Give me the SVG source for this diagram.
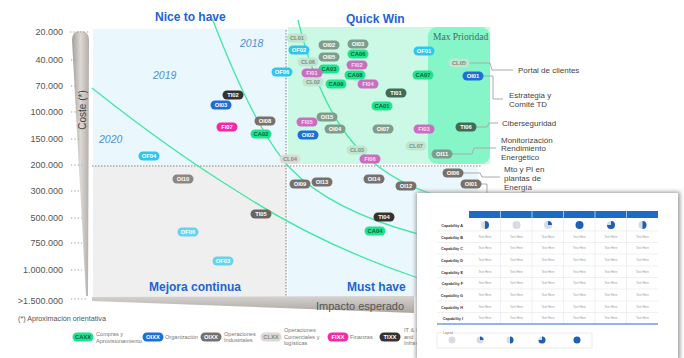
<svg xmlns="http://www.w3.org/2000/svg" width="684" height="358" viewBox="0 0 684 358">
<defs>
<linearGradient id="gy" x1="0" y1="0" x2="1" y2="0">
<stop offset="0" stop-color="#a39e99"/><stop offset="0.5" stop-color="#dcd9d6"/><stop offset="1" stop-color="#b3aea9"/>
</linearGradient>
<linearGradient id="gx" x1="0" y1="0" x2="0" y2="1">
<stop offset="0" stop-color="#d6d3d0"/><stop offset="1" stop-color="#aaa5a0"/>
</linearGradient>
<filter id="sh" x="-5%" y="-5%" width="110%" height="110%">
<feGaussianBlur stdDeviation="2"/>
</filter>
</defs>
<style>
text{font-family:"Liberation Sans",Arial,sans-serif}
.yl{font-size:9px;fill:#555;text-anchor:end}
.lead{stroke:#999;stroke-width:1.2;stroke-dasharray:1.2,2.2}
.div{stroke:#aaa;stroke-width:1.5;stroke-dasharray:1.5,1.5;fill:none}
.quad{font-size:12px;font-weight:bold;fill:#1c64d8}
.yr{font-size:10.5px;font-style:italic;fill:#4d8fe0}
.curve{fill:none;stroke:#3fe8a6;stroke-width:1.3}
.call{fill:none;stroke:#aaa;stroke-width:1}
.cl{font-size:8px;fill:#444}
.pt{font-size:5.8px;font-weight:bold;text-anchor:middle;fill:#fff}
.ca{fill:#1fe48e}.tca{fill:#0d5e3a}
.of{fill:#2ec6ef}.ofl{fill:#66d3f0}
.org{fill:#1b6fd5}
.ind{fill:#77716b}.indq{fill:#7e9d8c}.indl{fill:#8b8680}
.clg{fill:#dcd8d3}.tcl{fill:#8c8782}.clq{fill:#c0e5d1}.tclq{fill:#7d8f84}
.fi{fill:#f02aa9}.fiq{fill:#c96ec0}.tfiq{fill:#f6dcf1}
.ti{fill:#36322e}.tiq{fill:#3f6b57}.tig{fill:#6a6560}
.lg{font-size:5.6px;fill:#777}
.rl{font-size:3.8px;font-weight:bold;fill:#333;text-anchor:end}
.th{font-size:3px;fill:#9a9a9a;text-anchor:middle}
.row{stroke:#e6e6e6;stroke-width:0.6}
.pbg{fill:#d8dce2}.pfg{fill:#1f5fb8}
</style>

<!-- background quadrants -->
<g id="quadrants">
<rect x="93" y="29" width="194" height="137" fill="#eaf7fc"/>
<rect x="93" y="166" width="194" height="131" fill="#efefef"/>
<rect x="288" y="27" width="202" height="137" fill="#ccf9e5"/>
<rect x="288" y="167" width="190" height="130" fill="#eaf7fc"/>
<rect x="428" y="27" width="62" height="137" rx="9" fill="#86f5c8"/>
<text x="433" y="40" font-size="9.5" fill="#4a6b5c" style="font-family:'Liberation Serif',serif">Max Prioridad</text>
<line class="div" x1="92" y1="166" x2="482" y2="166"/>
<line class="div" x1="286" y1="30" x2="286" y2="297"/>
</g>

<!-- y axis -->
<g id="y-axis">
<path d="M72,40 Q72,31 80.5,31 Q89,31 89,40 L88,296 L86,296 Z" fill="url(#gy)"/>
<text x="0" y="0" transform="translate(86,110) rotate(-90)" font-size="10" fill="#444" text-anchor="middle">Coste (*)</text>
<text class="yl" x="63" y="35">20.000</text>
<text class="yl" x="63" y="63">40.000</text>
<text class="yl" x="63" y="89">70.000</text>
<text class="yl" x="63" y="115">100.000</text>
<text class="yl" x="63" y="142">150.000</text>
<text class="yl" x="63" y="168">200.000</text>
<text class="yl" x="63" y="194">300.000</text>
<text class="yl" x="63" y="221">500.000</text>
<text class="yl" x="63" y="246">750.000</text>
<text class="yl" x="63" y="273">1.000.000</text>
<text class="yl" x="63" y="304">&gt;1.500.000</text>
<line class="lead" x1="70" y1="32" x2="89" y2="32"/>
<line class="lead" x1="71" y1="60" x2="78" y2="60"/>
<line class="lead" x1="71" y1="86" x2="78" y2="86"/>
<line class="lead" x1="71" y1="112" x2="78" y2="112"/>
<line class="lead" x1="71" y1="139" x2="80" y2="139"/>
<line class="lead" x1="71" y1="165" x2="82" y2="165"/>
<line class="lead" x1="71" y1="191" x2="80" y2="191"/>
<line class="lead" x1="71" y1="218" x2="82" y2="218"/>
<line class="lead" x1="71" y1="243" x2="82" y2="243"/>
<line class="lead" x1="71" y1="270" x2="82" y2="270"/>
<line class="lead" x1="71" y1="299" x2="86" y2="299"/>
</g>

<!-- x axis -->
<g id="x-axis">
<path d="M92,297 L414,296 L414,313 L92,301 Z" fill="url(#gx)"/>
<text x="316" y="310" font-size="11" fill="#555">Impacto esperado</text>
</g>

<!-- labels -->
<g id="labels">
<text class="quad" x="155" y="21">Nice to have</text>
<text class="quad" x="346" y="23">Quick Win</text>
<text class="quad" x="149" y="291">Mejora continua</text>
<text class="quad" x="347" y="291">Must have</text>
<text class="yr" x="240" y="47">2018</text>
<text class="yr" x="153" y="79">2019</text>
<text class="yr" x="99" y="143">2020</text>
<text x="18" y="321" font-size="7.2" fill="#555">(*) Aproximación orientativa</text>
</g>

<!-- connectors -->
<g id="connectors">
<path class="curve" d="M212,18 Q255,130 290,168 Q330,210 418,234"/>
<path class="curve" d="M298,20 Q322,118 368,158 Q395,182 432,194"/>
<path class="curve" d="M92,88 Q170,150 240,193 Q320,245 418,278"/>
<path class="call" d="M467,63 H490 L492,70 H513"/>
<path class="call" d="M483,76 H493 V99 H503"/>
<path class="call" d="M476,127 H487 L489,123 H498"/>
<path class="call" d="M452,154 H472 L474,148 H496"/>
<path class="call" d="M463,173 H480 L482,177 H500"/>
<path class="call" d="M481,184 H487 V195"/>
</g>

<!-- callout texts -->
<g id="callouts">
<text class="cl" x="518" y="73">Portal de clientes</text>
<text class="cl" x="509" y="98">Estrategia y</text>
<text class="cl" x="509" y="107">Comité TD</text>
<text class="cl" x="502" y="126">Ciberseguridad</text>
<text class="cl" x="501" y="143">Monitorización</text>
<text class="cl" x="501" y="151">Rendimiento</text>
<text class="cl" x="501" y="160">Energético</text>
<text class="cl" x="504" y="172">Mto y PI en</text>
<text class="cl" x="504" y="181">plantas de</text>
<text class="cl" x="504" y="190">Energía</text>
</g>

<!-- nodes: upper left -->
<g id="TI02" transform="translate(233,95)"><rect class="ti" x="-10.5" y="-4.5" width="21" height="9" rx="4.5"/><text class="pt" y="2">TI02</text></g>
<g id="org-OI03" transform="translate(221,105)"><rect class="org" x="-10.5" y="-4.5" width="21" height="9" rx="4.5"/><text class="pt" y="2">OI03</text></g>
<g id="FI07" transform="translate(227,127)"><rect class="fi" x="-10.5" y="-4.5" width="21" height="9" rx="4.5"/><text class="pt" y="2">FI07</text></g>
<g id="ind-OI08" transform="translate(265,121)"><rect class="ind" x="-10.5" y="-4.5" width="21" height="9" rx="4.5"/><text class="pt" y="2">OI08</text></g>
<g id="CA02" transform="translate(261,134)"><rect class="ca" x="-10.5" y="-4.5" width="21" height="9" rx="4.5"/><text class="pt tca" y="2">CA02</text></g>
<g id="OF04" transform="translate(149,156)"><rect class="of" x="-10.5" y="-4.5" width="21" height="9" rx="4.5"/><text class="pt" y="2">OF04</text></g>
<g id="OF06-a" transform="translate(282,72)"><rect class="of" x="-10.5" y="-4.5" width="21" height="9" rx="4.5"/><text class="pt" y="2">OF06</text></g>

<!-- nodes: lower left -->
<g id="ind-OI10" transform="translate(183,179)"><rect class="indl" x="-10.5" y="-4.5" width="21" height="9" rx="4.5"/><text class="pt" y="2">OI10</text></g>
<g id="TI05" transform="translate(261,214)"><rect class="tig" x="-10.5" y="-4.5" width="21" height="9" rx="4.5"/><text class="pt" y="2">TI05</text></g>
<g id="OF06-b" transform="translate(188,232)"><rect class="ofl" x="-10.5" y="-4.5" width="21" height="9" rx="4.5"/><text class="pt" y="2">OF06</text></g>
<g id="OF03" transform="translate(223,261)"><rect class="ofl" x="-10.5" y="-4.5" width="21" height="9" rx="4.5"/><text class="pt" y="2">OF03</text></g>

<!-- nodes: lower right -->
<g id="ind-OI09" transform="translate(300,184)"><rect class="ind" x="-10.5" y="-4.5" width="21" height="9" rx="4.5"/><text class="pt" y="2">OI09</text></g>
<g id="ind-OI13" transform="translate(322,182)"><rect class="ind" x="-10.5" y="-4.5" width="21" height="9" rx="4.5"/><text class="pt" y="2">OI13</text></g>
<g id="ind-OI14" transform="translate(374,179)"><rect class="ind" x="-10.5" y="-4.5" width="21" height="9" rx="4.5"/><text class="pt" y="2">OI14</text></g>
<g id="ind-OI12" transform="translate(406,186)"><rect class="ind" x="-10.5" y="-4.5" width="21" height="9" rx="4.5"/><text class="pt" y="2">OI12</text></g>
<g id="TI04" transform="translate(384,217)"><rect class="ti" x="-10.5" y="-4.5" width="21" height="9" rx="4.5"/><text class="pt" y="2">TI04</text></g>
<g id="CA04" transform="translate(375,231)"><rect class="ca" x="-10.5" y="-4.5" width="21" height="9" rx="4.5"/><text class="pt tca" y="2">CA04</text></g>
<g id="ind-OI06" transform="translate(453,173)"><rect class="ind" x="-10.5" y="-4.5" width="21" height="9" rx="4.5"/><text class="pt" y="2">OI06</text></g>
<g id="ind-OI01" transform="translate(471,184)"><rect class="ind" x="-10.5" y="-4.5" width="21" height="9" rx="4.5"/><text class="pt" y="2">OI01</text></g>

<!-- nodes: quick win -->
<g id="CL01" transform="translate(297,38)"><rect class="clq" x="-10.5" y="-4.5" width="21" height="9" rx="4.5"/><text class="pt tclq" y="2">CL01</text></g>
<g id="ind-OI02" transform="translate(329,45)"><rect class="indq" x="-10.5" y="-4.5" width="21" height="9" rx="4.5"/><text class="pt" y="2">OI02</text></g>
<g id="ind-OI03" transform="translate(358,44)"><rect class="indq" x="-10.5" y="-4.5" width="21" height="9" rx="4.5"/><text class="pt" y="2">OI03</text></g>
<g id="OF02" transform="translate(299,50)"><rect class="of" x="-10.5" y="-4.5" width="21" height="9" rx="4.5"/><text class="pt" y="2">OF02</text></g>
<g id="ind-OI05" transform="translate(329,57)"><rect class="indq" x="-10.5" y="-4.5" width="21" height="9" rx="4.5"/><text class="pt" y="2">OI05</text></g>
<g id="CA06" transform="translate(358,54)"><rect class="ca" x="-10.5" y="-4.5" width="21" height="9" rx="4.5"/><text class="pt tca" y="2">CA06</text></g>
<g id="CL06" transform="translate(308,62)"><rect class="clq" x="-10.5" y="-4.5" width="21" height="9" rx="4.5"/><text class="pt tclq" y="2">CL06</text></g>
<g id="FI02" transform="translate(357,65)"><rect class="fiq" x="-10.5" y="-4.5" width="21" height="9" rx="4.5"/><text class="pt tfiq" y="2">FI02</text></g>
<g id="CA03" transform="translate(329,69)"><rect class="ca" x="-10.5" y="-4.5" width="21" height="9" rx="4.5"/><text class="pt tca" y="2">CA03</text></g>
<g id="FI01" transform="translate(312,73)"><rect class="fiq" x="-10.5" y="-4.5" width="21" height="9" rx="4.5"/><text class="pt tfiq" y="2">FI01</text></g>
<g id="CA08" transform="translate(355,75)"><rect class="ca" x="-10.5" y="-4.5" width="21" height="9" rx="4.5"/><text class="pt tca" y="2">CA08</text></g>
<g id="CL02" transform="translate(313,82)"><rect class="clq" x="-10.5" y="-4.5" width="21" height="9" rx="4.5"/><text class="pt tclq" y="2">CL02</text></g>
<g id="CA09" transform="translate(336,84)"><rect class="ca" x="-10.5" y="-4.5" width="21" height="9" rx="4.5"/><text class="pt tca" y="2">CA09</text></g>
<g id="FI04" transform="translate(368,84)"><rect class="fiq" x="-10.5" y="-4.5" width="21" height="9" rx="4.5"/><text class="pt tfiq" y="2">FI04</text></g>
<g id="OF01" transform="translate(424,51)"><rect class="of" x="-10.5" y="-4.5" width="21" height="9" rx="4.5"/><text class="pt" y="2">OF01</text></g>
<g id="CA07" transform="translate(423,75)"><rect class="ca" x="-10.5" y="-4.5" width="21" height="9" rx="4.5"/><text class="pt tca" y="2">CA07</text></g>
<g id="TI01" transform="translate(396,93)"><rect class="tiq" x="-10.5" y="-4.5" width="21" height="9" rx="4.5"/><text class="pt" y="2">TI01</text></g>
<g id="CA01" transform="translate(382,106)"><rect class="ca" x="-10.5" y="-4.5" width="21" height="9" rx="4.5"/><text class="pt tca" y="2">CA01</text></g>
<g id="ind-OI15" transform="translate(327,117)"><rect class="indq" x="-10.5" y="-4.5" width="21" height="9" rx="4.5"/><text class="pt" y="2">OI15</text></g>
<g id="FI05" transform="translate(307,122)"><rect class="fiq" x="-10.5" y="-4.5" width="21" height="9" rx="4.5"/><text class="pt tfiq" y="2">FI05</text></g>
<g id="ind-OI04" transform="translate(335,129)"><rect class="indq" x="-10.5" y="-4.5" width="21" height="9" rx="4.5"/><text class="pt" y="2">OI04</text></g>
<g id="ind-OI07" transform="translate(383,129)"><rect class="indq" x="-10.5" y="-4.5" width="21" height="9" rx="4.5"/><text class="pt" y="2">OI07</text></g>
<g id="FI03" transform="translate(424,129)"><rect class="fiq" x="-10.5" y="-4.5" width="21" height="9" rx="4.5"/><text class="pt tfiq" y="2">FI03</text></g>
<g id="org-OI02" transform="translate(308,135)"><rect class="org" x="-10.5" y="-4.5" width="21" height="9" rx="4.5"/><text class="pt" y="2">OI02</text></g>
<g id="CL07" transform="translate(416,146)"><rect class="clq" x="-10.5" y="-4.5" width="21" height="9" rx="4.5"/><text class="pt tclq" y="2">CL07</text></g>
<g id="CL03" transform="translate(357,150)"><rect class="clq" x="-10.5" y="-4.5" width="21" height="9" rx="4.5"/><text class="pt tclq" y="2">CL03</text></g>
<g id="FI06" transform="translate(370,159)"><rect class="fiq" x="-10.5" y="-4.5" width="21" height="9" rx="4.5"/><text class="pt tfiq" y="2">FI06</text></g>
<g id="CL04" transform="translate(290,159)"><rect class="clg" x="-10.5" y="-4.5" width="21" height="9" rx="4.5"/><text class="pt tcl" y="2">CL04</text></g>
<g id="ind-OI11" transform="translate(442,154)"><rect class="indq" x="-10.5" y="-4.5" width="21" height="9" rx="4.5"/><text class="pt" y="2">OI11</text></g>
<g id="CL05" transform="translate(459,63)"><rect class="clq" x="-10.5" y="-4.5" width="21" height="9" rx="4.5"/><text class="pt tclq" y="2">CL05</text></g>
<g id="org-OI01" transform="translate(473,76)"><rect class="org" x="-10.5" y="-4.5" width="21" height="9" rx="4.5"/><text class="pt" y="2">OI01</text></g>
<g id="TI06" transform="translate(466,127)"><rect class="tiq" x="-10.5" y="-4.5" width="21" height="9" rx="4.5"/><text class="pt" y="2">TI06</text></g>

<!-- legend -->
<g id="legend">
<g transform="translate(83,337)"><rect class="ca" x="-10.5" y="-4.5" width="21" height="9" rx="4.5"/><text class="pt tca" y="2">CAXX</text></g>
<text class="lg" x="96" y="336">Compras y</text>
<text class="lg" x="96" y="342.5">Aprovisionamiento</text>
<g transform="translate(153,337)"><rect class="org" x="-10.5" y="-4.5" width="21" height="9" rx="4.5"/><text class="pt" y="2">OIXX</text></g>
<text class="lg" x="165" y="339">Organización</text>
<g transform="translate(211,337)"><rect class="ind" x="-10.5" y="-4.5" width="21" height="9" rx="4.5"/><text class="pt" y="2">OIXX</text></g>
<text class="lg" x="224" y="335.5">Operaciones</text>
<text class="lg" x="224" y="342">Industriales</text>
<g transform="translate(271,337)"><rect class="clg" x="-10.5" y="-4.5" width="21" height="9" rx="4.5"/><text class="pt tcl" y="2">CLXX</text></g>
<text class="lg" x="284" y="332">Operaciones</text>
<text class="lg" x="284" y="338.5">Comerciales y</text>
<text class="lg" x="284" y="345">logísticas</text>
<g transform="translate(338,337)"><rect class="fi" x="-10.5" y="-4.5" width="21" height="9" rx="4.5"/><text class="pt" y="2">FIXX</text></g>
<text class="lg" x="350" y="339">Finanzas</text>
<g transform="translate(390,337)"><rect class="ti" x="-10.5" y="-4.5" width="21" height="9" rx="4.5"/><text class="pt" y="2">TIXX</text></g>
<text class="lg" x="404" y="332">IT &amp; Comms</text>
<text class="lg" x="404" y="338.5">and</text>
<text class="lg" x="404" y="345">Infras</text>
</g>

<!-- table panel -->
<g id="table-panel">
<rect x="416" y="192" width="264" height="168" fill="#9a9a9a" filter="url(#sh)"/>
<rect x="417" y="193" width="261" height="166" fill="#ffffff"/>
<rect x="469" y="211" width="189" height="7" fill="#1f6bc4"/>
<g stroke="#ffffff" stroke-width="0.6">
<line x1="500.5" y1="211" x2="500.5" y2="218"/><line x1="532" y1="211" x2="532" y2="218"/><line x1="563.5" y1="211" x2="563.5" y2="218"/><line x1="595" y1="211" x2="595" y2="218"/><line x1="626.5" y1="211" x2="626.5" y2="218"/>
</g>
<g class="row">
<line x1="437" y1="231" x2="658" y2="231"/><line x1="437" y1="242.5" x2="658" y2="242.5"/><line x1="437" y1="254" x2="658" y2="254"/><line x1="437" y1="266" x2="658" y2="266"/><line x1="437" y1="277.5" x2="658" y2="277.5"/><line x1="437" y1="289" x2="658" y2="289"/><line x1="437" y1="301" x2="658" y2="301"/><line x1="437" y1="312.5" x2="658" y2="312.5"/>
<line x1="500.5" y1="219" x2="500.5" y2="324"/><line x1="532" y1="219" x2="532" y2="324"/><line x1="563.5" y1="219" x2="563.5" y2="324"/><line x1="595" y1="219" x2="595" y2="324"/><line x1="626.5" y1="219" x2="626.5" y2="324"/>
</g>
<line x1="437" y1="324" x2="658" y2="324" stroke="#2a6cc0" stroke-width="1"/>
<text class="rl" x="463" y="226.5">Capability A</text>
<text class="rl" x="463" y="238.5">Capability B</text>
<text class="rl" x="463" y="249.5">Capability C</text>
<text class="rl" x="463" y="261.5">Capability D</text>
<text class="rl" x="463" y="273.5">Capability E</text>
<text class="rl" x="463" y="284.5">Capability F</text>
<text class="rl" x="463" y="296.5">Capability G</text>
<text class="rl" x="463" y="308.5">Capability H</text>
<text class="rl" x="463" y="319.5">Capability I</text>
<circle class="pbg" cx="485" cy="225" r="4"/><path class="pfg" d="M485,221 A4,4 0 0 1 485,229 Z"/>
<circle class="pbg" cx="516.5" cy="225" r="4"/>
<circle class="pbg" cx="548" cy="225" r="4"/><path class="pfg" d="M548,225 L548,221 A4,4 0 0 1 552,225 Z"/>
<circle class="pfg" cx="579.5" cy="225" r="4"/>
<circle class="pbg" cx="611" cy="225" r="4"/><path class="pfg" d="M611,225 L611,221 A4,4 0 1 1 607,225 Z"/>
<circle class="pbg" cx="642.5" cy="225" r="4"/><path class="pfg" d="M642.5,221 A4,4 0 0 1 642.5,229 Z"/>
<g class="th">
<text x="485" y="238">Text Here</text><text x="516.5" y="238">Text Here</text><text x="548" y="238">Text Here</text><text x="579.5" y="238">Text Here</text><text x="611" y="238">Text Here</text><text x="642.5" y="238">Text Here</text>
<text x="485" y="249">Text Here</text><text x="516.5" y="249">Text Here</text><text x="548" y="249">Text Here</text><text x="579.5" y="249">Text Here</text><text x="611" y="249">Text Here</text><text x="642.5" y="249">Text Here</text>
<text x="485" y="261">Text Here</text><text x="516.5" y="261">Text Here</text><text x="548" y="261">Text Here</text><text x="579.5" y="261">Text Here</text><text x="611" y="261">Text Here</text><text x="642.5" y="261">Text Here</text>
<text x="485" y="273">Text Here</text><text x="516.5" y="273">Text Here</text><text x="548" y="273">Text Here</text><text x="579.5" y="273">Text Here</text><text x="611" y="273">Text Here</text><text x="642.5" y="273">Text Here</text>
<text x="485" y="284">Text Here</text><text x="516.5" y="284">Text Here</text><text x="548" y="284">Text Here</text><text x="579.5" y="284">Text Here</text><text x="611" y="284">Text Here</text><text x="642.5" y="284">Text Here</text>
<text x="485" y="296">Text Here</text><text x="516.5" y="296">Text Here</text><text x="548" y="296">Text Here</text><text x="579.5" y="296">Text Here</text><text x="611" y="296">Text Here</text><text x="642.5" y="296">Text Here</text>
<text x="485" y="308">Text Here</text><text x="516.5" y="308">Text Here</text><text x="548" y="308">Text Here</text><text x="579.5" y="308">Text Here</text><text x="611" y="308">Text Here</text><text x="642.5" y="308">Text Here</text>
<text x="485" y="319">Text Here</text><text x="516.5" y="319">Text Here</text><text x="548" y="319">Text Here</text><text x="579.5" y="319">Text Here</text><text x="611" y="319">Text Here</text><text x="642.5" y="319">Text Here</text>
</g>
<rect x="437" y="333" width="155" height="15" fill="none" stroke="#dddddd" stroke-width="0.6"/>
<rect x="442" y="331" width="12" height="4" fill="#ffffff"/>
<text x="443" y="334" font-size="3" fill="#777">Legend</text>
<circle class="pbg" cx="452" cy="340" r="3.5"/>
<circle class="pbg" cx="480" cy="340" r="3.5"/><path class="pfg" d="M480,340 L480,336.5 A3.5,3.5 0 0 1 483.5,340 Z"/>
<circle class="pbg" cx="510" cy="340" r="3.5"/><path class="pfg" d="M510,336.5 A3.5,3.5 0 0 1 510,343.5 Z"/>
<circle class="pbg" cx="542" cy="340" r="3.5"/><path class="pfg" d="M542,340 L542,336.5 A3.5,3.5 0 1 1 538.5,340 Z"/>
<circle class="pfg" cx="577" cy="340" r="3.5"/>
</g>
</svg>
